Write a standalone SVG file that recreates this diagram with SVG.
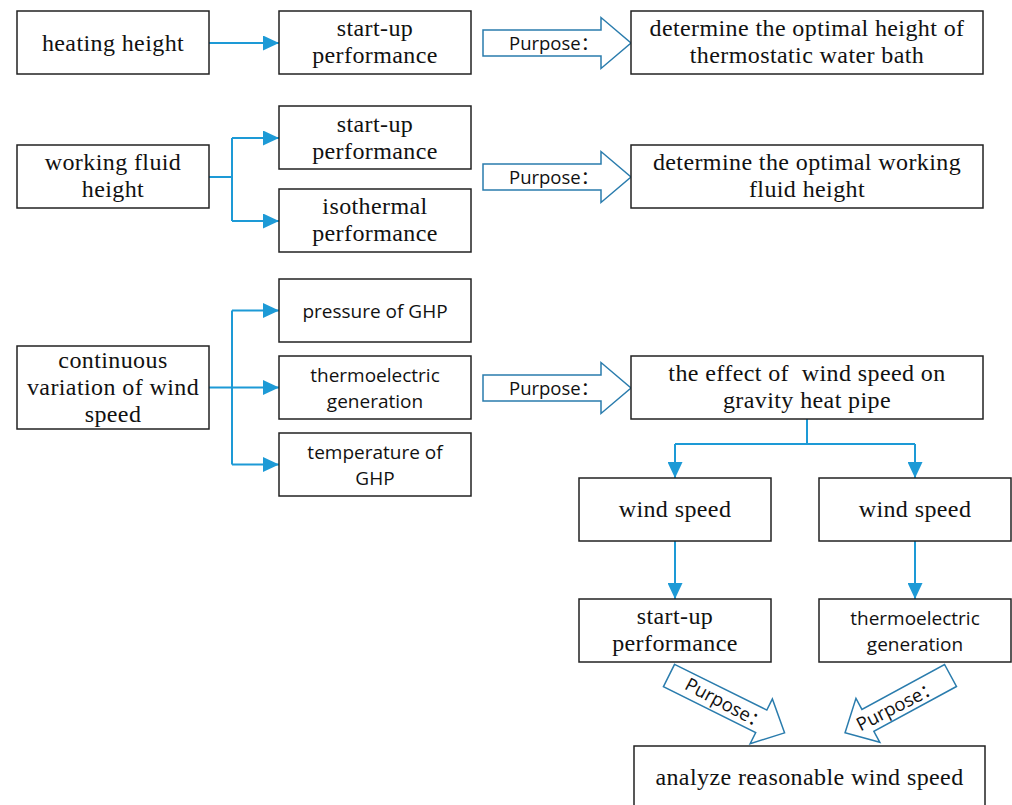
<svg xmlns="http://www.w3.org/2000/svg" xmlns:xlink="http://www.w3.org/1999/xlink" width="1012" height="805" viewBox="0 0 1012 805">
<style>
.box{fill:#fff;stroke:#222;stroke-width:1.5}
.serif{font-family:"Liberation Serif","Times New Roman",serif;font-size:24px;letter-spacing:0.4px;fill:#111;text-anchor:middle}
.sans{font-family:"Open Sans","Liberation Sans",sans-serif;font-size:19px;fill:#111;text-anchor:middle}
.purp{font-family:"Open Sans","Noto Sans CJK SC",sans-serif;font-size:18.5px;fill:#111}
.conn{fill:none;stroke:#1d9ad6;stroke-width:2}
.hollow{fill:#fff;stroke:#2a7cad;stroke-width:1.5;stroke-linejoin:miter}
</style>
<defs>
<marker id="ah" markerUnits="userSpaceOnUse" markerWidth="16" markerHeight="15" refX="16" refY="7.5" orient="auto">
<path d="M0,0 L16,7.5 L0,15 z" fill="#1d9ad6"/>
</marker>
<polygon id="harrow" class="hollow" points="0,-13 118,-13 118,-25.5 148,0 118,25.5 118,13 0,13"/>
</defs>

<g id="connectors">
<path class="conn" d="M209,43 H279" marker-end="url(#ah)"/>
<path class="conn" d="M209,177 H232 M232,138 V221"/>
<path class="conn" d="M232,138 H279" marker-end="url(#ah)"/>
<path class="conn" d="M232,221 H279" marker-end="url(#ah)"/>
<path class="conn" d="M232,310.5 V464.5"/>
<path class="conn" d="M209,387.5 H279" marker-end="url(#ah)"/>
<path class="conn" d="M232,310.5 H279" marker-end="url(#ah)"/>
<path class="conn" d="M232,464.5 H279" marker-end="url(#ah)"/>
<path class="conn" d="M807,419 V444 M675,444 H915"/>
<path class="conn" d="M675,444 V478" marker-end="url(#ah)"/>
<path class="conn" d="M915,444 V478" marker-end="url(#ah)"/>
<path class="conn" d="M675,541 V599" marker-end="url(#ah)"/>
<path class="conn" d="M915,541 V599" marker-end="url(#ah)"/>
</g>

<g id="purpose1" transform="translate(483,43)">
<use xlink:href="#harrow"/>
<text class="purp" x="26" y="6.5">Purpose：</text>
</g>
<g id="purpose2" transform="translate(483,177)">
<use xlink:href="#harrow"/>
<text class="purp" x="26" y="6.5">Purpose：</text>
</g>
<g id="purpose3" transform="translate(483,388)">
<use xlink:href="#harrow"/>
<text class="purp" x="26" y="6.5">Purpose：</text>
</g>
<g id="purpose4">
<polygon class="hollow" transform="translate(669,675.5) rotate(26.4)" points="0,-12.5 103,-12.5 103,-25 129,0 103,25 103,12.5 0,12.5"/>
<text class="purp" transform="translate(683.5,688.5) rotate(28)">Purpose：</text>
</g>
<g id="purpose5">
<polygon class="hollow" transform="translate(950.5,675.5) rotate(151.5)" points="0,-12.5 94,-12.5 94,-25 120,0 94,25 94,12.5 0,12.5"/>
<text class="purp" transform="translate(860.5,731.5) rotate(-27)">Purpose：</text>
</g>

<g id="n-heating">
<rect class="box" x="17" y="11" width="192" height="63"/>
<text class="serif" x="113" y="50.5">heating height</text>
</g>
<g id="n-startup1">
<rect class="box" x="279" y="11" width="192" height="63"/>
<text class="serif" x="375" y="36">start-up</text>
<text class="serif" x="375" y="63">performance</text>
</g>
<g id="n-det1">
<rect class="box" x="631" y="11" width="352" height="63"/>
<text class="serif" x="807" y="36">determine the optimal height of</text>
<text class="serif" x="807" y="63">thermostatic water bath</text>
</g>
<g id="n-wfh">
<rect class="box" x="17" y="145" width="192" height="63"/>
<text class="serif" x="113" y="170">working fluid</text>
<text class="serif" x="113" y="197">height</text>
</g>
<g id="n-startup2">
<rect class="box" x="279" y="106" width="192" height="63"/>
<text class="serif" x="375" y="131.5">start-up</text>
<text class="serif" x="375" y="158.5">performance</text>
</g>
<g id="n-iso">
<rect class="box" x="279" y="189" width="192" height="63"/>
<text class="serif" x="375" y="214">isothermal</text>
<text class="serif" x="375" y="241">performance</text>
</g>
<g id="n-det2">
<rect class="box" x="631" y="145" width="352" height="63"/>
<text class="serif" x="807" y="170">determine the optimal working</text>
<text class="serif" x="807" y="197">fluid height</text>
</g>
<g id="n-pressure">
<rect class="box" x="279" y="279" width="192" height="63"/>
<text class="sans" x="375" y="318">pressure of GHP</text>
</g>
<g id="n-cont">
<rect class="box" x="17" y="346" width="192" height="83"/>
<text class="serif" x="113" y="368">continuous</text>
<text class="serif" x="113" y="395">variation of wind</text>
<text class="serif" x="113" y="421.5">speed</text>
</g>
<g id="n-thermo1">
<rect class="box" x="279" y="356" width="192" height="63"/>
<text class="sans" x="375" y="381.5">thermoelectric</text>
<text class="sans" x="375" y="407.5">generation</text>
</g>
<g id="n-temp">
<rect class="box" x="279" y="433" width="192" height="63"/>
<text class="sans" x="375" y="458.5">temperature of</text>
<text class="sans" x="375" y="484.5">GHP</text>
</g>
<g id="n-effect">
<rect class="box" x="631" y="356" width="352" height="63"/>
<text class="serif" x="807" y="381" style="white-space:pre">the effect of  wind speed on</text>
<text class="serif" x="807" y="408">gravity heat pipe</text>
</g>
<g id="n-ws1">
<rect class="box" x="579" y="478" width="192" height="63"/>
<text class="serif" x="675" y="517">wind speed</text>
</g>
<g id="n-ws2">
<rect class="box" x="819" y="478" width="192" height="63"/>
<text class="serif" x="915" y="517">wind speed</text>
</g>
<g id="n-startup3">
<rect class="box" x="579" y="599" width="192" height="63"/>
<text class="serif" x="675" y="624">start-up</text>
<text class="serif" x="675" y="651">performance</text>
</g>
<g id="n-thermo2">
<rect class="box" x="819" y="599" width="192" height="63"/>
<text class="sans" x="915" y="624.5">thermoelectric</text>
<text class="sans" x="915" y="650.5">generation</text>
</g>
<g id="n-analyze">
<rect class="box" x="634" y="746" width="351" height="70"/>
<text class="serif" x="809.5" y="785">analyze reasonable wind speed</text>
</g>
</svg>
